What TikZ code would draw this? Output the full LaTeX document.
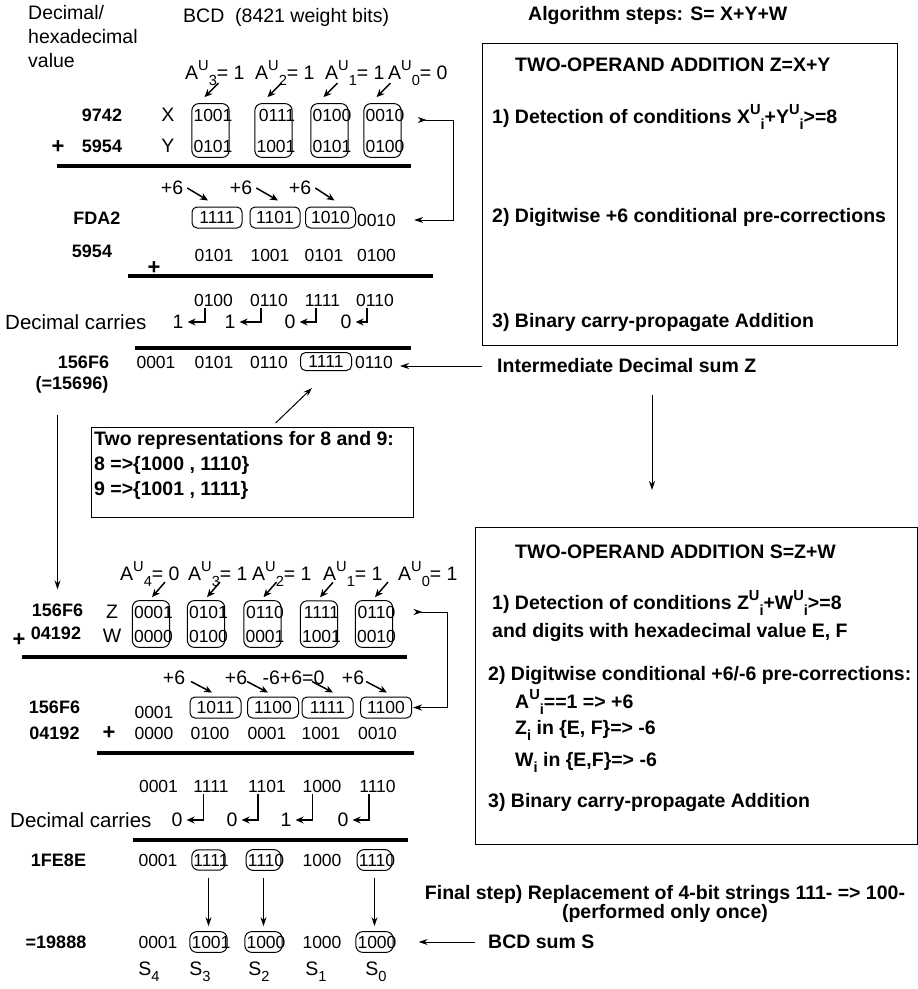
\documentclass[tikz,border=0pt]{standalone}
\usepackage{fontspec}
\setmainfont{Liberation Sans}
\usetikzlibrary{arrows.meta,positioning,calc,fit}

\newcommand{\supsub}[2]{\raisebox{.45em}{\scalebox{.75}{#1}}\raisebox{-.3em}{\scalebox{.75}{#2}}}
\newcommand{\subidx}[1]{\raisebox{-.3em}{\scalebox{.75}{#1}}}

\begin{document}
\begin{tikzpicture}[x=1pt,y=-1pt,
    bits/.style={font=\fontsize{17.5}{20}\selectfont,inner sep=0pt},
    num/.style={font=\fontsize{18}{22}\selectfont\bfseries,inner sep=0pt},
    lbl/.style={font=\fontsize{19.5}{24}\selectfont,inner sep=0pt},
    note/.style={font=\fontsize{19.5}{25}\selectfont\bfseries,inner sep=0pt,align=left},
    grp/.style={draw,rounded corners=7pt,line width=1pt},
    col/.style={grp,inner xsep=-1pt,inner ysep=5pt,xshift=-2.5pt},
    bgrp/.style={grp,bits,rounded corners=5pt,minimum width=50pt,minimum height=21pt},
    frame/.style={draw,line width=1.3pt},
    bar/.style={line width=4.5pt},
    tip/.style={-{Stealth[length=8pt,width=7pt]},line width=1.5pt},
    link/.style={-{Stealth[length=9pt,width=6pt]},line width=1pt}]
  \useasboundingbox (0,0) rectangle (918,989);

  % headings
  \node[lbl,anchor=west,align=left] (hexlbl) at (28,37) {Decimal/\\hexadecimal\\value};
  \node[lbl,anchor=west] (bcd) at (183,17) {BCD\ \ (8421 weight bits)};
  \node[note,anchor=west] (alg) at (528,15) {Algorithm steps: S= X+Y+W};

  % first addition Z=X+Y
  \foreach \i/\x/\v in {3/185/1,2/255/1,1/325/1,0/388/0}
    \node[lbl,anchor=west] (au\i) at (\x,73) {A\supsub{U}{\i}= \v};
  \node[num] (xv) at (102,115) {9742};
  \node[num] (yv) at (102,146) {5954};
  \node[num,font=\fontsize{22}{22}\selectfont\bfseries] (plx) at (58,147) {+};
  \node[lbl] (xl) at (168,115) {X};
  \node[lbl] (yl) at (168,146) {Y};
  \foreach \n/\x/\b in {1/213/1001,2/277/0111,3/332/0100,4/385/0010}
    \node[bits] (x\n) at (\x,115) {\b};
  \foreach \n/\x/\b in {1/213/0101,2/276/1001,3/332/0101,4/385/0100}
    \node[bits] (y\n) at (\x,146) {\b};
  \foreach \n in {1,...,4}{
    \node[col,fit=(x\n)(y\n)] (cx\n) {};
    \draw[tip] (cx\n.north) ++(8,-20) -- ([xshift=-6pt,yshift=6pt]cx\n.north);
  }
  \draw[bar] (57,166) -- (411,166);

  % +6 pre-corrections
  \foreach \n/\x in {1/172,2/241,3/300}
    \node[lbl] (pa\n) at (\x,188) {+6};
  \node[num] (fda) at (97,218) {FDA2};
  \foreach \n/\x/\b in {1/217/1111,2/275/1101,3/330.5/1010}
    \node[bgrp] (f\n) at (\x,217.5) {\b};
  \node[bits] (f4) at (376.5,220) {0010};
  \foreach \n/\e in {1/-9,2/3,3/4}
    \draw[tip] ([xshift=4pt]pa\n.east) -- ([xshift=\e pt,yshift=6pt]f\n.north);
  \draw[link,{Stealth[length=9pt,width=6pt,reversed]}-{Stealth[length=9pt,width=6pt]}]
    ([xshift=13pt,yshift=-5pt]x4.east) -- ++(36,0) |- ([xshift=18pt]f4.east);

  \node[num] (yb) at (92,251) {5954};
  \foreach \n/\x/\b in {1/214/0101,2/270/1001,3/324/0101,4/376.5/0100}
    \node[bits] (g\n) at (\x,255) {\b};
  \node[num,font=\fontsize{22}{22}\selectfont\bfseries] (ply) at (154,268) {+};
  \draw[bar] (128,276) -- (433,276);

  \foreach \n/\x/\b in {1/213.5/0100,2/269/0110,3/322.5/1111,4/375/0110}
    \node[bits] (h\n) at (\x,300) {\b};
  \node[lbl,font=\fontsize{20.5}{24}\selectfont,anchor=west] (dca) at (5,322) {Decimal carries};
  \foreach \n/\x/\c in {1/178/1,2/230/1,3/290/0,4/346/0}{
    \node[lbl] (ka\n) at (\x,322) {\c};
    \draw[tip] ([xshift=11pt,yshift=-2pt]h\n.south west) |- ([xshift=4pt]ka\n.east);
  }
  \draw[bar] (135,348) -- (411,348);

  % intermediate sum Z
  \node[num] (zsum) at (83.5,362) {156F6};
  \node[num] (zdec) at (72,385) {(=15696)};
  \foreach \n/\x/\b in {1/156/0001,2/214/0101,3/269/0110}
    \node[bits] (z\n) at (\x,362) {\b};
  \node[bgrp,minimum width=51pt,minimum height=18pt] (z4) at (326,361.5) {1111};
  \node[bits] (z5) at (374,362) {0110};
  \node[note,anchor=west] (iz) at (497,366) {Intermediate Decimal sum Z};
  \draw[link] ([xshift=-15pt]iz.west) -- ([xshift=7pt]z5.east |- iz.west);

  \node[frame,minimum width=322pt,minimum height=90pt,anchor=north west] (rep) at (91,427) {};
  \node[note,anchor=north west] (reptxt) at ([xshift=3pt,yshift=-4pt]rep.north west)
    {Two representations for 8 and 9:\\8 =>\{1000 , 1110\}\\9 =>\{1001 , 1111\}};
  \draw[link] ([xshift=23pt,yshift=4pt]rep.north) -- ([xshift=-14pt,yshift=-17pt]z4.south);

  % steps of the first addition
  \node[frame,minimum width=415pt,minimum height=302pt,anchor=north west] (boxA) at (482,43) {};
  \node[note,anchor=west] (ta0) at (515,65) {TWO-OPERAND ADDITION Z=X+Y};
  \node[note,anchor=west] (ta1) at (492,117) {1) Detection of conditions X\supsub{U}{i}+Y\supsub{U}{i}>=8};
  \node[note,anchor=west] (ta2) at (492,217) {2) Digitwise +6 conditional pre-corrections};
  \node[note,anchor=west] (ta3) at (492,322) {3) Binary carry-propagate Addition};

  \coordinate (zdn) at (652,490);
  \draw[link] (iz.south -| zdn) ++(0,22) -- (zdn);

  % second addition S=Z+W
  \node[frame,minimum width=442pt,minimum height=317pt,anchor=north west] (boxB) at (475,527) {};
  \node[note,anchor=west] (tb0) at (515,552) {TWO-OPERAND ADDITION S=Z+W};
  \node[note,anchor=west] (tb1) at (492,603) {1) Detection of conditions Z\supsub{U}{i}+W\supsub{U}{i}>=8};
  \node[note,anchor=west] (tb2) at (492,632) {and digits with hexadecimal value E, F};
  \node[note,anchor=west] (tb3) at (488,675) {2) Digitwise conditional +6/-6 pre-corrections:};
  \node[note,anchor=west] (tb4) at (515,702) {A\supsub{U}{i}==1 => +6};
  \node[note,anchor=west] (tb5) at (515,730) {Z\subidx{i} in \{E, F\}=> -6};
  \node[note,anchor=west] (tb6) at (515,762) {W\subidx{i} in \{E,F\}=> -6};
  \node[note,anchor=west] (tb7) at (488,802) {3) Binary carry-propagate Addition};

  \foreach \i/\x/\v in {4/120/0,3/188/1,2/252/1,1/323/1,0/398/1}
    \node[lbl,anchor=west] (bu\i) at (\x,574) {A\supsub{U}{\i}= \v};
  \node[num] (l156) at (57.5,610) {156F6};
  \node[num] (l042) at (56,633) {04192};
  \node[num,font=\fontsize{22}{22}\selectfont\bfseries] (plz) at (19,640) {+};
  \node[lbl] (zl) at (112,612) {Z};
  \node[lbl] (wl) at (112,636) {W};
  \draw[link] (l156.north |- zdec.south) ++(0,21) -- ([yshift=14pt]l156.north);
  \foreach \n/\x/\b in {1/153.5/0001,2/208.5/0101,3/265/0110,4/321.5/1111,5/376.5/0110}
    \node[bits] (zz\n) at (\x,612) {\b};
  \foreach \n/\x/\b in {1/153.5/0000,2/208.5/0100,3/265/0001,4/321.5/1001,5/376.5/0010}
    \node[bits] (ww\n) at (\x,636) {\b};
  \foreach \n in {1,...,5}{
    \node[col,fit=(zz\n)(ww\n)] (cz\n) {};
    \draw[tip] (cz\n.north) ++(14,-18) -- ([xshift=1pt,yshift=3pt]cz\n.north);
  }
  \draw[bar] (22,657) -- (407,657);

  \foreach \n/\x/\t in {1/174/+6,2/236/+6,3/293.5/-6+6=0,4/353/+6}
    \node[lbl] (pb\n) at (\x,678) {\t};
  \node[num] (v156) at (54.5,707) {156F6};
  \node[bits] (v0) at (154,712) {0001};
  \foreach \n/\x/\b in {1/215.5/1011,2/273/1100,3/327.5/1111,4/386/1100\hspace{12pt}}
    \node[bgrp,minimum width=51pt] (v\n) at (\x,707.5) {\b};
  \foreach \n/\e in {1/-3.5,2/-5,3/5.5,4/1}
    \draw[tip] (v\n.north) ++(\e-21,-15) -- ([xshift=\e pt,yshift=4pt]v\n.north);
  \draw[link,{Stealth[length=9pt,width=6pt,reversed]}-{Stealth[length=9pt,width=6pt]}]
    ([xshift=18pt]zz5.east) -- ++(34,0) |- ([xshift=1pt]v4.east);

  \node[num] (m042) at (54.5,733) {04192};
  \node[num,font=\fontsize{22}{22}\selectfont\bfseries] (plw) at (109,733) {+};
  \foreach \n/\x/\b in {1/154/0000,2/210/0100,3/267/0001,4/321/1001,5/377.5/0010}
    \node[bits] (n\n) at (\x,733) {\b};
  \draw[bar] (97,753) -- (414,753);

  \foreach \n/\x/\b in {1/158.5/0001,2/211/1111,3/267/1101,4/322/1000,5/377.5/1110}
    \node[bits] (q\n) at (\x,786) {\b};
  \node[lbl,font=\fontsize{20.5}{24}\selectfont,anchor=west] (dcb) at (10,820) {Decimal carries};
  \foreach \n/\x/\c in {2/177/0,3/232/0,4/286/1,5/343/0}{
    \node[lbl] (kb\n) at (\x,820) {\c};
    \draw[tip] ([xshift=10pt,yshift=-2pt]q\n.south west) |- ([xshift=4pt]kb\n.east);
  }
  \draw[bar] (133,840) -- (408,840);

  % final replacement
  \node[num] (hexs) at (58.5,860) {1FE8E};
  \foreach \n/\x/\b in {1/158/0001,2/211/1111,3/266/1110,4/322/1000,5/377/1110}
    \node[bits] (e\n) at (\x,860) {\b};
  \node[num] (decs) at (56,942) {=19888};
  \foreach \n/\x/\b in {1/158/0001,2/211/1001,3/266/1000,4/322/1000,5/377/1000}
    \node[bits] (o\n) at (\x,942) {\b};
  \foreach \n in {2,3,5}{
    \node[col,inner ysep=4pt,fit=(e\n)] (ce\n) {};
    \node[col,inner ysep=4pt,fit=(o\n)] (co\n) {};
    \draw[link,shorten <=7pt,shorten >=5pt] (ce\n) -- (co\n);
  }
  \node[note,align=center] (fs) at (665,903.5)
    {Final step) Replacement of 4-bit strings 111- => 100-\\[-6pt](performed only once)};
  \node[note,anchor=west] (bcds) at (488,942) {BCD sum S};
  \draw[link] ([xshift=-13pt]bcds.west) -- ([xshift=25pt]co5.east);
  \foreach \i/\x in {4/149,3/200,2/259,1/316,0/376}
    \node[lbl] (s\i) at (\x,972) {S\subidx{\i}};
\end{tikzpicture}
\end{document}
